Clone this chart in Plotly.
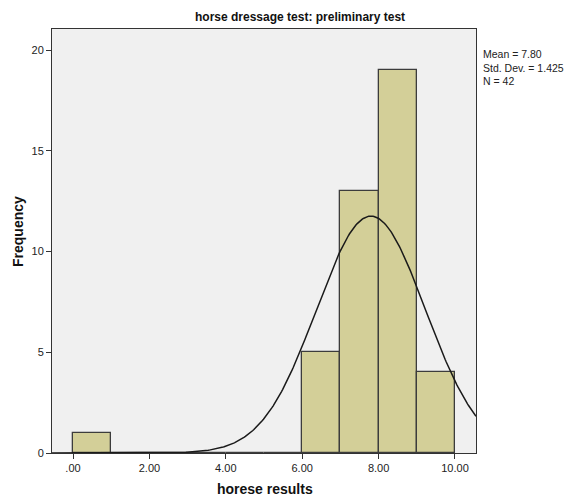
import numpy as np
import plotly.graph_objects as go

bin_left = [0, 1, 2, 3, 4, 5, 6, 7, 8, 9]
counts = [1, 0, 0, 0, 0, 0, 5, 13, 19, 4]
mean_val = 7.80
std_val = 1.425
n_val = 42
x_ticks = [0, 2, 4, 6, 8, 10]
x_tick_labels = [".00", "2.00", "4.00", "6.00", "8.00", "10.00"]
y_ticks = [0, 5, 10, 15, 20]

L, R, T, B = 52, 93, 29, 43
W, H = 569, 496
pw, ph = W - L - R, H - T - B

centers = [b + 0.5 for b in bin_left]
xs = np.linspace(-0.55, 10.55, 400)
ys = n_val * 1.0 / (std_val * np.sqrt(2 * np.pi)) * np.exp(-0.5 * ((xs - mean_val) / std_val) ** 2)

fig = go.Figure()
fig.add_trace(go.Bar(x=centers, y=counts, width=1,
                     marker=dict(color="#d3cf98", line=dict(color="#3c3c3c", width=1.3)),
                     hoverinfo="skip"))
fig.add_trace(go.Scatter(x=xs, y=ys, mode="lines", line=dict(color="#1a1a1a", width=1.5),
                         hoverinfo="skip"))

font = "Liberation Sans, Arial, sans-serif"
fig.update_layout(
    width=W, height=H, margin=dict(l=L, r=R, t=T, b=B, pad=0),
    paper_bgcolor="white", plot_bgcolor="#f0f0f0", showlegend=False,
    bargap=0, font=dict(family=font, size=11, color="#222"),
    xaxis=dict(range=[-0.55, 10.55], tickvals=x_ticks, ticktext=x_tick_labels,
               showgrid=False, zeroline=False, showline=True, linecolor="#333", linewidth=1,
               mirror=True, ticks="outside", ticklen=5, tickcolor="#333",
               tickfont=dict(size=11, family=font, color="#222")),
    yaxis=dict(range=[0, 21.05], tickvals=y_ticks,
               showgrid=False, zeroline=False, showline=True, linecolor="#333", linewidth=1,
               mirror=True, ticks="outside", ticklen=5, tickcolor="#333",
               tickfont=dict(size=11, family=font, color="#222")),
)

def px_x(p):
    return (p - L) / pw

def px_y(p):
    return (H - B - p) / ph

stats_lines = ["Mean = %.2f" % mean_val, "Std. Dev. = %.3f" % std_val, "N = %d" % n_val]

ann = [
    dict(x=px_x(300), y=px_y(17), text="<b>horse dressage test: preliminary test</b>",
         font=dict(size=12, family=font, color="#111")),
    dict(x=px_x(265), y=px_y(489), text="<b>horese results</b>",
         font=dict(size=14, family=font, color="#111")),
    dict(x=px_x(18), y=px_y(232), text="<b>Frequency</b>", textangle=-90,
         font=dict(size=14, family=font, color="#111")),
    dict(x=px_x(482), y=px_y(67.5), xanchor="left", text="<br>".join(stats_lines),
         align="left", borderpad=0, font=dict(size=10.5, family=font, color="#222")),
]
for a in ann:
    a.setdefault("xanchor", "center")
    a.update(xref="paper", yref="paper", showarrow=False, yanchor="middle")
    fig.add_annotation(**a)

fig.write_html("out.html", config={"displayModeBar": False},
               post_script="document.body.style.margin='0';document.body.style.overflow='hidden';")
